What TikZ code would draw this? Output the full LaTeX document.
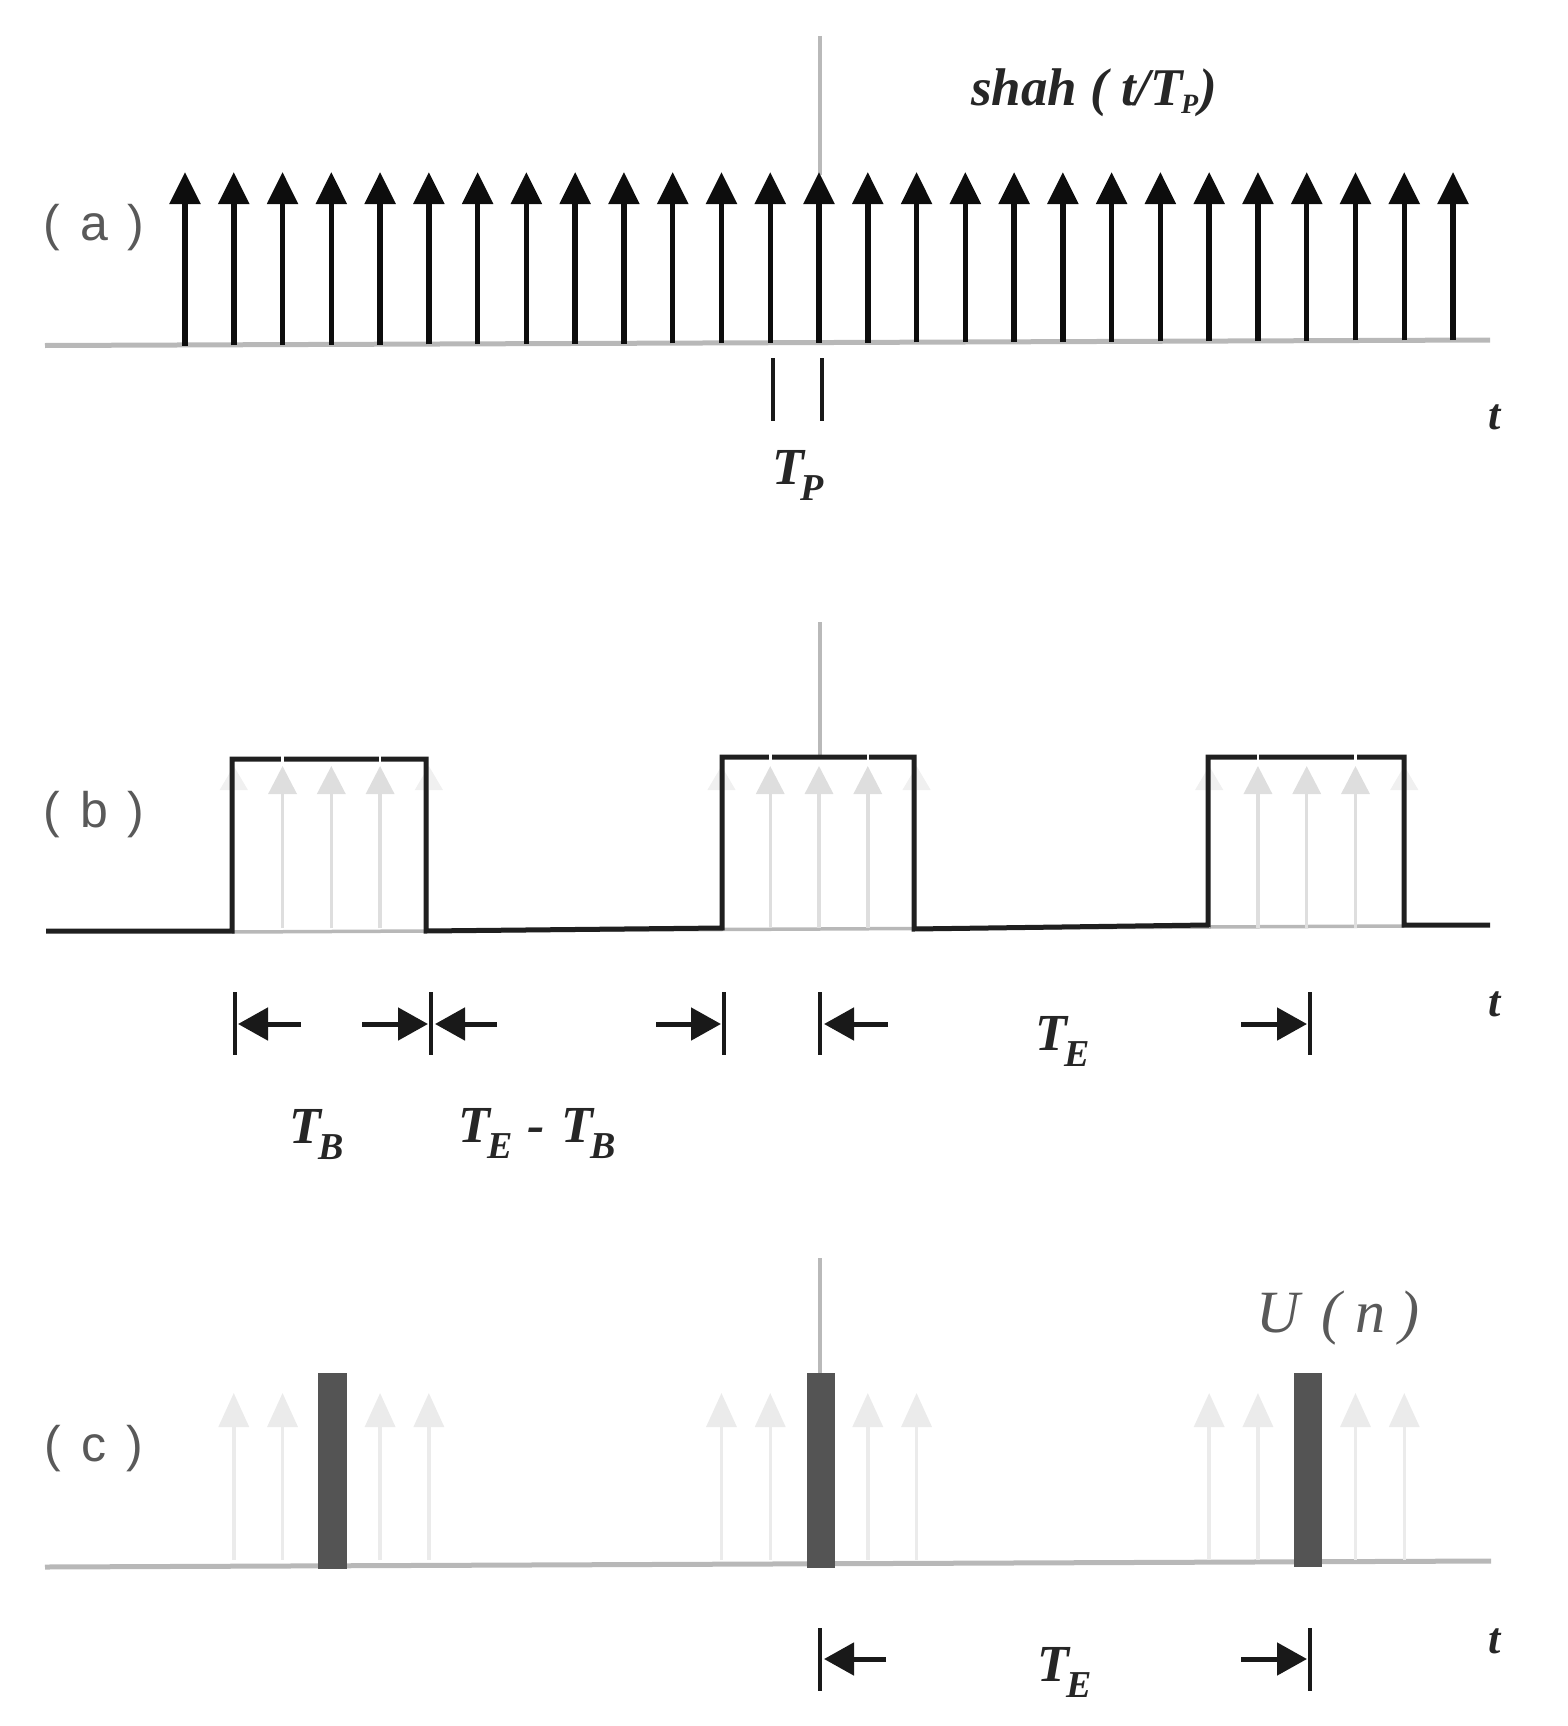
\documentclass[tikz,border=0pt]{standalone}
\usepackage{fontspec}
\setmainfont{Liberation Serif}
\newfontfamily\sansf{Liberation Sans}
\usetikzlibrary{arrows.meta}
\definecolor{axisgray}{gray}{0.72}
\definecolor{faintb}{gray}{0.87}
\definecolor{faintc}{gray}{0.92}
\definecolor{barfill}{gray}{0.33}
\newcommand{\Tsub}[1]{T\kern-3pt\raisebox{-16pt}{\fontsize{38}{38}\selectfont #1}}
\newcommand{\parlab}[1]{(\kern 20pt #1\kern 20pt)}
\tikzset{
  axisline/.style={draw=axisgray,line width=5pt},
  refline/.style={draw=gray!55,line width=3.5pt},
  impulse/.style={draw=black!95,line width=5.5pt,-{Triangle[length=32pt,width=30pt]}},
  faintimp/.style={line width=3.5pt,-{Triangle[length=32pt,width=28pt]}},
  pulse/.style={draw=black!88,line width=5pt,line join=miter},
  marktick/.style={draw=black!90,line width=3.5pt},
  dimarrow/.style={draw=black!90,line width=5pt,-{Triangle[length=30pt,width=32pt]},shorten >=0pt},
  bar/.style={fill=barfill,draw=none},
  panellabel/.style={inner sep=0pt,text=black!65,font=\sansf\fontsize{50}{50}\selectfont},
  mathlabel/.style={inner sep=0pt,text=black!85,font=\bfseries\itshape\fontsize{52}{52}\selectfont},
  shahlabel/.style={inner sep=0pt,text=black!85,font=\bfseries\itshape\fontsize{53}{53}\selectfont},
  ulabel/.style={inner sep=0pt,text=black!65,font=\itshape\fontsize{60}{60}\selectfont}
}
\begin{document}
\begin{tikzpicture}[x=1pt,y=-1pt]
\useasboundingbox (0,0) rectangle (1568,1726);
% ---------- panel a
\coordinate (axaL) at (45,345.5); \coordinate (axaR) at (1490,340);
\draw[axisline] (axaL) -- (axaR);
\coordinate (vaT) at (820,36); \coordinate (vaB) at (820,175);
\draw[refline] (vaT) -- (vaB);
\foreach \i in {0,...,26}{
  \pgfmathsetmacro{\xx}{185+48.77*\i}
  \pgfmathsetmacro{\yy}{345.5-0.21*\i}
  \coordinate (aB\i) at (\xx,\yy);
  \coordinate (aT\i) at (\xx,172);
  \draw[impulse] (aB\i) -- (aT\i);
}
\coordinate (tpa1) at (773,358); \coordinate (tpa2) at (773,421);
\coordinate (tpb1) at (822,358); \coordinate (tpb2) at (822,421);
\draw[marktick] (tpa1) -- (tpa2);
\draw[marktick] (tpb1) -- (tpb2);
\node[panellabel] (la) at (94,228) {\parlab{a}};
\node[shahlabel] (shah) at (1094,93) {shah\kern 13pt( t/T\kern-2pt\raisebox{-8pt}{\fontsize{28}{28}\selectfont P}\kern 1pt)};
\node[mathlabel] (tp) at (798,475) {\Tsub{P}};
\node[mathlabel,font=\bfseries\itshape\fontsize{44}{44}\selectfont] (ta) at (1495,417) {t};
% ---------- panel b
\coordinate (vbT) at (820,622); \coordinate (vbB) at (820,757);
\draw[refline] (vbT) -- (vbB);
\coordinate (axbL) at (232,932); \coordinate (axbR) at (1404,926);
\draw[draw=axisgray,line width=3.5pt] (axbL) -- (axbR);
\foreach \i in {1,5,11,15,21,25}{
  \pgfmathsetmacro{\xx}{185+48.77*\i}
  \coordinate (bB\i) at (\xx,928);
  \coordinate (bT\i) at (\xx,766);
  \draw[faintimp,draw=black!6,fill=black!6,line width=1pt,arrows={-{Triangle[length=24pt,width=28pt,color=black!6]}}] (bB\i) -- (bT\i);
}
\foreach \i in {2,3,4,12,13,14,22,23,24}{
  \pgfmathsetmacro{\xx}{185+48.77*\i}
  \coordinate (bB\i) at (\xx,928);
  \coordinate (bT\i) at (\xx,766);
  \draw[faintimp,draw=faintb,arrows={-{Triangle[length=28pt,width=28pt,color=faintb]}}] (bB\i) -- (bT\i);
}
\coordinate (p0) at (46,931);
\coordinate (p1) at (232,931); \coordinate (p2) at (232,759);
\coordinate (p3) at (426,759); \coordinate (p4) at (426,931);
\coordinate (p5) at (722,928); \coordinate (p6) at (722,757);
\coordinate (p7) at (914,757); \coordinate (p8) at (914,929);
\coordinate (p9) at (1208,925); \coordinate (p10) at (1208,757);
\coordinate (p11) at (1404,757); \coordinate (p12) at (1404,925);
\coordinate (p13) at (1490,925);
\draw[pulse] (p0) -- (p1) -- (p2) -- (p3) -- (p4) -- (p5) -- (p6) -- (p7) -- (p8) -- (p9) -- (p10) -- (p11) -- (p12) -- (p13);
\foreach \i/\y in {2/759,4/759,12/757,14/757,22/757,24/757}{
  \pgfmathsetmacro{\xx}{185+48.77*\i}
  \draw[white,line width=2.5pt] (\xx,\y-4) -- (\xx,\y+4);
}
% dimension marks b
\foreach \n/\x in {t1/235,t2/431,t3/724,t4/820,t5/1310}{
  \coordinate (\n T) at (\x,992);
  \coordinate (\n B) at (\x,1055);
  \draw[marktick] (\n T) -- (\n B);
}
\foreach \n/\s/\e in {d1/301/238,d2/362/428,d3/497/435,d4/656/721,d5/888/824,d6/1241/1307}{
  \coordinate (\n S) at (\s,1024);
  \coordinate (\n E) at (\e,1024);
  \draw[dimarrow] (\n S) -- (\n E);
}
\node[panellabel] (lb) at (94,815) {\parlab{b}};
\node[mathlabel] (tb) at (317,1135) {\Tsub{B}};
\node[mathlabel] (tetb) at (537,1134) {\Tsub{E}\kern 15pt-\kern 17pt\Tsub{B}};
\node[mathlabel] (te1) at (1063,1041) {\Tsub{E}};
\node[mathlabel,font=\bfseries\itshape\fontsize{44}{44}\selectfont] (tbt) at (1495,1004) {t};
% ---------- panel c
\coordinate (vcT) at (820,1258); \coordinate (vcB) at (820,1373);
\draw[refline] (vcT) -- (vcB);
\coordinate (axcL) at (45,1567); \coordinate (axcR) at (1491,1561);
\draw[axisline] (axcL) -- (axcR);
\foreach \i in {1,2,4,5,11,12,14,15,21,22,24,25}{
  \pgfmathsetmacro{\xx}{185+48.77*\i}
  \coordinate (cB\i) at (\xx,1560);
  \coordinate (cT\i) at (\xx,1393);
  \draw[faintimp,draw=faintc,arrows={-{Triangle[length=34pt,width=30pt,color=faintc]}}] (cB\i) -- (cT\i);
}
\fill[bar] (318,1373) rectangle (347,1569);
\fill[bar] (807,1373) rectangle (835,1568);
\fill[bar] (1294,1373) rectangle (1322,1567);
\foreach \n/\x in {c1/820,c2/1310}{
  \coordinate (\n T) at (\x,1628);
  \coordinate (\n B) at (\x,1691);
  \draw[marktick] (\n T) -- (\n B);
}
\coordinate (e1S) at (886,1659); \coordinate (e1E) at (824,1659);
\coordinate (e2S) at (1241,1659); \coordinate (e2E) at (1307,1659);
\draw[dimarrow] (e1S) -- (e1E);
\draw[dimarrow] (e2S) -- (e2E);
\node[panellabel] (lc) at (94,1449) {\parlab{c}};
\node[ulabel] (un) at (1338,1318) {U\kern 22pt(\kern 14pt n\kern 14pt)};
\node[mathlabel] (te2) at (1065,1672) {\Tsub{E}};
\node[mathlabel,font=\bfseries\itshape\fontsize{44}{44}\selectfont] (tct) at (1495,1641) {t};
\end{tikzpicture}
\end{document}
